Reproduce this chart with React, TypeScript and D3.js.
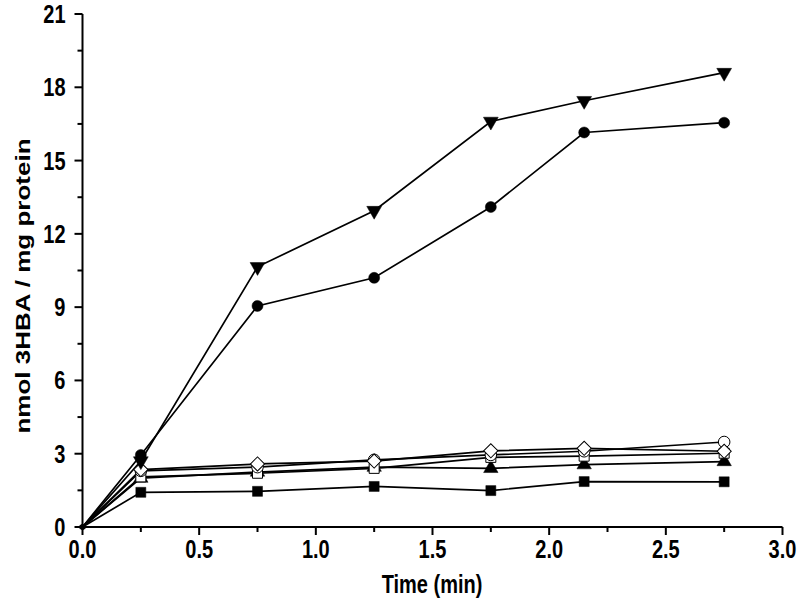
import React from "react";
import * as d3 from "d3";

const times = [0, 0.25, 0.75, 1.25, 1.75, 2.15, 2.75];
const filledSquare = [0, 1.42, 1.46, 1.66, 1.49, 1.86, 1.85];
const filledCircle = [0, 2.95, 9.05, 10.2, 13.1, 16.15, 16.55];
const filledTriUp = [0, 2.0, 2.25, 2.45, 2.4, 2.55, 2.68];
const filledTriDown = [0, 2.7, 10.65, 12.95, 16.6, 17.45, 18.6];
const openSquare = [0, 2.05, 2.2, 2.4, 2.85, 2.9, 3.02];
const openCircle = [0, 2.3, 2.45, 2.75, 2.95, 3.1, 3.48];
const openDiamond = [0, 2.35, 2.58, 2.7, 3.12, 3.22, 3.1];

const xMajor = [0, 0.5, 1.0, 1.5, 2.0, 2.5, 3.0];
const xMinor = [0.25, 0.75, 1.25, 1.75, 2.25, 2.75];
const yMajor = [0, 3, 6, 9, 12, 15, 18, 21];
const yMinor = [1.5, 4.5, 7.5, 10.5, 13.5, 16.5, 19.5];

const series = [
  { values: filledSquare, symbol: d3.symbolSquare, fill: "#000", size: 100, rot: 0 },
  { values: filledTriUp, symbol: d3.symbolTriangle, fill: "#000", size: 90, rot: 0 },
  { values: openSquare, symbol: d3.symbolSquare, fill: "#fff", size: 100, rot: 0 },
  { values: openCircle, symbol: d3.symbolCircle, fill: "#fff", size: 105, rot: 0 },
  { values: openDiamond, symbol: d3.symbolSquare, fill: "#fff", size: 100, rot: 45 },
  { values: filledCircle, symbol: d3.symbolCircle, fill: "#000", size: 95, rot: 0 },
  { values: filledTriDown, symbol: d3.symbolTriangle, fill: "#000", size: 95, rot: 180 },
];

export default function App() {
  const W = 800, H = 610;
  const x = d3.scaleLinear().domain([0, 3]).range([82.5, 782.5]);
  const y = d3.scaleLinear().domain([0, 21]).range([527, 14]);
  const line = d3.line<[number, number]>().x(d => x(d[0])).y(d => y(d[1]));
  const font = "'Liberation Sans', Arial, sans-serif";
  const fs = 20;
  const sy = 1.3;
  return (
    <svg width={W} height={H} style={{ position: "absolute", left: 0, top: 0, background: "#fff" }}>
      <g>
        {series.map((s, i) => (
          <path key={"l" + i} d={line(times.map((t, j) => [t, s.values[j]]) as [number, number][]) || ""}
            fill="none" stroke="#000" strokeWidth={1.7} />
        ))}
        {series.map((s, i) =>
          times.map((t, j) => (
            <path key={"m" + i + "-" + j}
              d={d3.symbol().type(s.symbol).size(j === 0 ? 14 : s.size)() || ""}
              transform={`translate(${x(t)},${y(s.values[j])})${s.rot ? ` rotate(${s.rot})` : ""}`}
              fill={s.fill} stroke="#000" strokeWidth={s.fill === "#fff" ? 1 : 0.5} />
          ))
        )}
      </g>
      <line x1={x(0)} x2={x(3)} y1={y(0)} y2={y(0)} stroke="#000" strokeWidth={2} />
      <line x1={x(0)} x2={x(0)} y1={y(0)} y2={y(21)} stroke="#000" strokeWidth={2} />
      {xMajor.map(v => (
        <g key={"xM" + v}>
          <line x1={x(v)} x2={x(v)} y1={y(0)} y2={y(0) + 8} stroke="#000" strokeWidth={2} />
          <text transform={`translate(${x(v)},${y(0) + 31}) scale(1,${sy})`} textAnchor="middle"
            fontFamily={font} fontWeight="bold" fontSize={fs}>{v.toFixed(1)}</text>
        </g>
      ))}
      {xMinor.map(v => (
        <line key={"xm" + v} x1={x(v)} x2={x(v)} y1={y(0)} y2={y(0) + 5} stroke="#000" strokeWidth={2} />
      ))}
      {yMajor.map(v => (
        <g key={"yM" + v}>
          <line x1={x(0) - 8} x2={x(0)} y1={y(v)} y2={y(v)} stroke="#000" strokeWidth={2} />
          <text transform={`translate(${x(0) - 17},${y(v) + 9}) scale(1,${sy})`} textAnchor="end"
            fontFamily={font} fontWeight="bold" fontSize={fs}>{v}</text>
        </g>
      ))}
      {yMinor.map(v => (
        <line key={"ym" + v} x1={x(0) - 5} x2={x(0)} y1={y(v)} y2={y(v)} stroke="#000" strokeWidth={2} />
      ))}
      <text transform={`translate(432,593) scale(1,${sy})`} textAnchor="middle"
        fontFamily={font} fontWeight="bold" fontSize={fs}>Time (min)</text>
      <text transform={`translate(30,286) rotate(-90) scale(${sy},1)`} textAnchor="middle"
        fontFamily={font} fontWeight="bold" fontSize={fs}>nmol 3HBA / mg protein</text>
    </svg>
  );
}
